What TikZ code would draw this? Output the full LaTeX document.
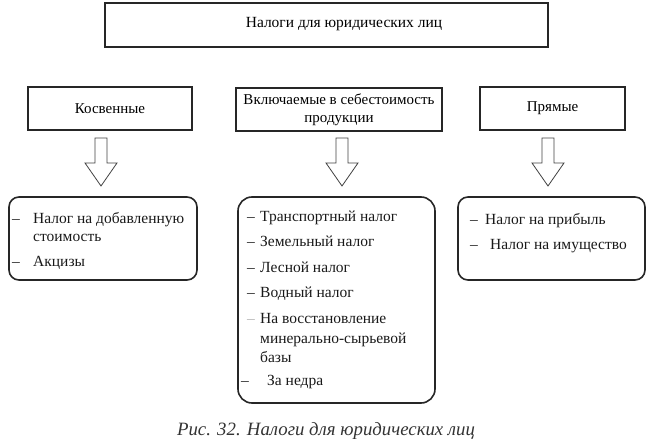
\documentclass[tikz,border=0pt]{standalone}
\usepackage{fontspec}
\setmainfont{Liberation Serif}

\begin{document}
\begin{tikzpicture}[x=1pt,y=-1pt,
  box/.style={draw=black!85, line width=1.5pt, inner sep=0pt, align=center, font=\fontsize{15}{18}\selectfont},
  listbox/.style={draw=black!85, line width=1.6pt, rounded corners=10pt, inner sep=0pt},
  item/.style={anchor=base west, inner sep=0pt, text=black!90, font=\fontsize{15.5}{18}\selectfont}]
  \useasboundingbox (0,0) rectangle (651,441);

  % Draw the header boxes
  \node[box, minimum width=443, minimum height=44] (top) at (326.5,25) {};
  \node[font=\fontsize{15.5}{18}\selectfont] (toptxt) at (344,24) {Налоги для юридических лиц};
  \node[box, minimum width=164, minimum height=43] (kos) at (110,108.5) {Косвенные};
  \node[box, minimum width=206, minimum height=43] (vkl) at (339,109.5) {Включаемые в себестоимость\\продукции};
  \node[box, minimum width=145, minimum height=43] (pr) at (552.5,108.5) {Прямые};

  % Hollow block arrows
  \foreach \x in {101,342,548}
    \draw[black!75, line width=0.8pt] ({\x-6},138) -- ({\x+6},138) -- ({\x+6},163) -- ({\x+16},163)
      -- (\x,186) -- ({\x-16},163) -- ({\x-6},163) -- cycle;

  % List boxes
  \node[listbox, minimum width=188, minimum height=83] (lkos) at (103,238.5) {};
  \node[listbox, minimum width=197, minimum height=206, rounded corners=14pt] (lvkl) at (336.5,300) {};
  \node[listbox, minimum width=187, minimum height=83] (lpr) at (551.5,238.5) {};

  % Items of the first box
  \node[item] (kd1) at (12,223) {–};
  \node[item] (kt1) at (33,223) {Налог на добавленную};
  \node[item] (kt2) at (33,241) {стоимость};
  \node[item] (kd2) at (12,266) {–};
  \node[item] (kt3) at (33,266) {Акцизы};

  % Items of the middle box
  \foreach \y/\txt [count=\i] in {222/Транспортный налог, 247/Земельный налог, 272/Лесной налог, 297/Водный налог}
    {\node[item] (vd\i) at (247,\y) {–};
     \node[item] (vt\i) at (260,\y) {\txt};}
  \node[item, text=black!30] (vd5) at (247,323) {–};
  \node[item] (vt5) at (260,323) {На восстановление};
  \node[item] (vt6) at (260,343) {минерально-сырьевой};
  \node[item] (vt7) at (260,362) {базы};
  \node[item] (vd6) at (241,385) {–};
  \node[item] (vt8) at (267,385) {За недра};

  % Items of the right box
  \node[item] (pd1) at (470,224) {–};
  \node[item] (pt1) at (485,224) {Налог на прибыль};
  \node[item] (pd2) at (470,249) {–};
  \node[item] (pt2) at (490,249) {Налог на имущество};

  \node[text=black!80, font=\itshape\fontsize{18.8}{20}\selectfont] (cap) at (326,431) {Рис. 32. Налоги для юридических лиц};
\end{tikzpicture}
\end{document}
